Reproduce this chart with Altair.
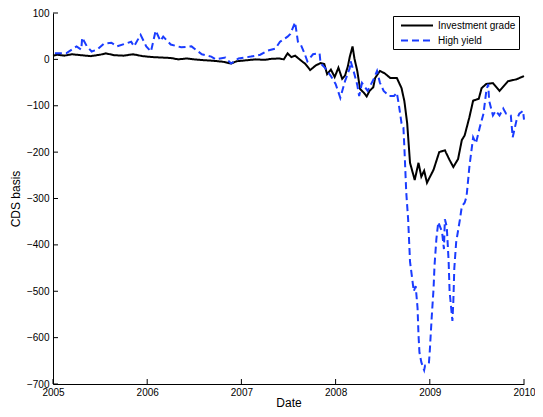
import altair as alt
import pandas as pd

series_names = ["Investment grade", "High yield"]

ig_year = [2005.00, 2005.05, 2005.12, 2005.20, 2005.30, 2005.40, 2005.50, 2005.56, 2005.65, 2005.75,
           2005.85, 2005.95, 2006.05, 2006.15, 2006.25, 2006.33, 2006.42, 2006.50, 2006.62, 2006.70,
           2006.80, 2006.89, 2006.95, 2007.05, 2007.15, 2007.25, 2007.31, 2007.40, 2007.45, 2007.49,
           2007.53, 2007.57, 2007.63, 2007.68, 2007.73, 2007.79, 2007.84, 2007.88, 2007.91, 2007.95,
           2007.99, 2008.03, 2008.07, 2008.10, 2008.13, 2008.15, 2008.18, 2008.20, 2008.23, 2008.26,
           2008.30, 2008.33, 2008.36, 2008.40, 2008.42, 2008.47, 2008.52, 2008.58, 2008.65, 2008.70,
           2008.73, 2008.76, 2008.79, 2008.84, 2008.88, 2008.91, 2008.94, 2008.97, 2009.04, 2009.10,
           2009.16, 2009.21, 2009.25, 2009.30, 2009.34, 2009.37, 2009.42, 2009.46, 2009.52, 2009.55,
           2009.60, 2009.67, 2009.74, 2009.83, 2009.92, 2010.00]
ig_value = [8, 10, 8, 11, 9, 7, 10, 13, 9, 8,
            11, 7, 5, 4, 3, 0, 2, 0, -2, -3,
            -5, -9, -4, -2, 0, -1, 1, 2, 0, 13,
            5, 8, -2, -10, -23, -13, -8, -10, -32, -22,
            -38, -18, -42, -35, -15, 5, 28, 2, -25, -64,
            -72, -80, -68, -60, -40, -25, -30, -40, -40, -62,
            -90, -138, -223, -260, -223, -253, -240, -266, -238, -200,
            -196, -217, -232, -215, -174, -164, -125, -89, -85, -62,
            -53, -51, -68, -47, -43, -36]

hy_year = [2005.02, 2005.14, 2005.25, 2005.30, 2005.31, 2005.36, 2005.41, 2005.47, 2005.54, 2005.62,
           2005.68, 2005.77, 2005.83, 2005.86, 2005.93, 2005.99, 2006.04, 2006.09, 2006.14, 2006.17,
           2006.25, 2006.36, 2006.47, 2006.58, 2006.68, 2006.73, 2006.83, 2006.89, 2006.97, 2007.10,
           2007.20, 2007.28, 2007.36, 2007.41, 2007.49, 2007.52, 2007.57, 2007.60, 2007.63, 2007.67,
           2007.70, 2007.76, 2007.83, 2007.84, 2007.89, 2007.95, 2008.00, 2008.05, 2008.10, 2008.15,
           2008.16, 2008.20, 2008.23, 2008.25, 2008.28, 2008.34, 2008.41, 2008.44, 2008.47, 2008.51,
           2008.57, 2008.62, 2008.65, 2008.67, 2008.70, 2008.72, 2008.73, 2008.75, 2008.77, 2008.79,
           2008.83, 2008.85, 2008.87, 2008.88, 2008.89, 2008.91, 2008.94, 2008.95, 2008.99, 2009.00,
           2009.02, 2009.04, 2009.05, 2009.07, 2009.09, 2009.13, 2009.15, 2009.16, 2009.18, 2009.20,
           2009.21, 2009.24, 2009.25, 2009.26, 2009.28, 2009.32, 2009.34, 2009.37, 2009.39, 2009.42,
           2009.46, 2009.49, 2009.53, 2009.57, 2009.60, 2009.62, 2009.63, 2009.67, 2009.70, 2009.74,
           2009.78, 2009.81, 2009.86, 2009.88, 2009.92, 2009.95, 2009.99, 2010.00]
hy_value = [13, 13, 28, 21, 47, 28, 17, 21, 34, 36,
            28, 34, 38, 28, 53, 28, 17, 62, 40, 49,
            32, 26, 28, 11, 6, 0, 4, -9, 2, 6,
            10, 19, 23, 38, 49, 55, 80, 38, 32, 13,
            -4, 11, 13, -8, -19, -36, -53, -83, -47, -19,
            -4, -32, -55, -79, -51, -68, -40, -25, -50, -68,
            -79, -79, -72, -96, -138, -147, -189, -287, -345, -436,
            -500, -489, -536, -594, -632, -653, -670, -660, -657, -628,
            -557, -494, -445, -387, -351, -372, -409, -345, -360, -436,
            -500, -564, -521, -451, -394, -345, -317, -309, -296, -232,
            -168, -181, -147, -117, -68, -53, -89, -121, -111, -121,
            -106, -117, -121, -168, -132, -117, -111, -130]

x_ticks = [2005, 2006, 2007, 2008, 2009, 2010]
y_ticks = [-700, -600, -500, -400, -300, -200, -100, 0, 100]

df = pd.concat([
    pd.DataFrame({"year": ig_year, "value": ig_value, "series": series_names[0]}),
    pd.DataFrame({"year": hy_year, "value": hy_value, "series": series_names[1]}),
], ignore_index=True)
df["idx"] = range(len(df))

W, H = 471, 371
FONT = "Liberation Sans"

x_scale = alt.Scale(domain=[2005, 2010], nice=False, zero=False)
y_scale = alt.Scale(domain=[-700, 100], nice=False, zero=False)

leg = alt.Legend(
    title=None, orient="none", legendX=340, legendY=3,
    strokeColor="black", padding=3,
    symbolType="M-2.909,0L2.909,0", symbolSize=121, symbolOffset=14.5,
    symbolStrokeWidth=2, labelFont=FONT, labelFontSize=10, labelColor="black",
    labelLimit=300, rowPadding=3, labelOffset=14.5, fillColor="white",
)

lines = alt.Chart(df).mark_line(strokeWidth=2).encode(
    x=alt.X("year:Q", scale=x_scale,
            axis=alt.Axis(values=x_ticks, format="d", title="Date", tickSize=0,
                          labelPadding=3, titlePadding=0, grid=False, labelFlush=False)),
    y=alt.Y("value:Q", scale=y_scale,
            axis=alt.Axis(values=y_ticks, title="CDS basis", tickSize=0,
                          labelPadding=4, titlePadding=4, grid=False, labelFlush=False)),
    color=alt.Color("series:N", scale=alt.Scale(domain=series_names, range=["#000000", "#1a3cff"]),
                    legend=leg),
    strokeDash=alt.StrokeDash("series:N", scale=alt.Scale(domain=series_names, range=[[1, 0], [7, 4]]),
                              legend=leg),
    order="idx:Q",
)

yt = alt.Chart(pd.DataFrame({"value": y_ticks})).mark_rule(color="black", strokeWidth=1).encode(
    y=alt.Y("value:Q", scale=y_scale),
    x=alt.value(0), x2=alt.value(5),
)
xt = alt.Chart(pd.DataFrame({"year": x_ticks})).mark_rule(color="black", strokeWidth=1).encode(
    x=alt.X("year:Q", scale=x_scale),
    y=alt.value(H), y2=alt.value(H - 5),
)

chart = alt.layer(yt, xt, lines).properties(
    width=W, height=H,
    autosize=alt.AutoSizeParams(type="none"),
    padding={"left": 45, "top": 5, "right": 11, "bottom": 25},
).configure_view(stroke=None).configure_axis(
    domainColor="black", domainWidth=1,
    labelFont=FONT, labelFontSize=10, labelColor="black",
    titleFont=FONT, titleFontSize=12, titleFontWeight="normal", titleColor="black",
)

chart.save("out.html", embed_options={"renderer": "svg", "actions": False})
